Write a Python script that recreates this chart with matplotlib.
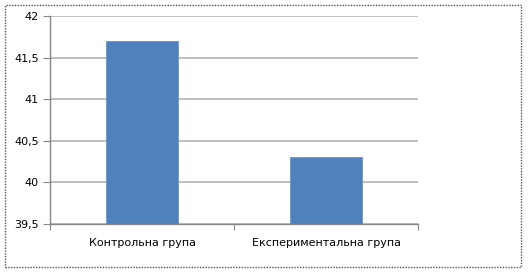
import matplotlib.pyplot as plt
from matplotlib.patches import Rectangle

groups = ['Контрольна група', 'Експериментальна група']
values = [41.7, 40.3]
yticks = [39.5, 40, 40.5, 41, 41.5, 42]
ylabels = ['39,5', '40', '40,5', '41', '41,5', '42']

fig = plt.figure(figsize=(5.28, 2.74), dpi=100)
ax = fig.add_axes([0.0947, 0.1825, 0.697, 0.759])

x = list(range(len(groups)))
ax.bar(x, [v - 39.5 for v in values], bottom=39.5, width=0.39,
       color='#4F81BD', edgecolor='#6A96CC', linewidth=0.6, zorder=3)

ax.set_xlim(-0.5, 1.5)
ax.set_ylim(39.5, 42)
ax.set_yticks(yticks)
ax.set_yticklabels(ylabels, fontsize=8)
ax.yaxis.grid(True, color='#B4B4B4', linewidth=1.2, zorder=0)

# category labels as minor ticks, boundary ticks as major
ax.set_xticks([-0.5, 0.5, 1.5])
ax.set_xticklabels([])
ax.set_xticks(x, minor=True)
ax.set_xticklabels(groups, minor=True, fontsize=8)
ax.tick_params(axis='x', which='minor', length=0, pad=10)
ax.tick_params(axis='x', which='major', length=4, color='#868686')
ax.tick_params(axis='y', length=5, color='#868686', pad=3)

for s in ['top', 'right']:
    ax.spines[s].set_visible(False)
for s in ['left', 'bottom']:
    ax.spines[s].set_color('#868686')
    ax.spines[s].set_linewidth(1)

fig.patches.append(Rectangle((5 / 528, 7 / 274), 516 / 528, 262 / 274,
                             transform=fig.transFigure, fill=False,
                             edgecolor='#555555', linestyle=(0, (1, 1)),
                             linewidth=1))

plt.savefig('out.png', dpi=100)
